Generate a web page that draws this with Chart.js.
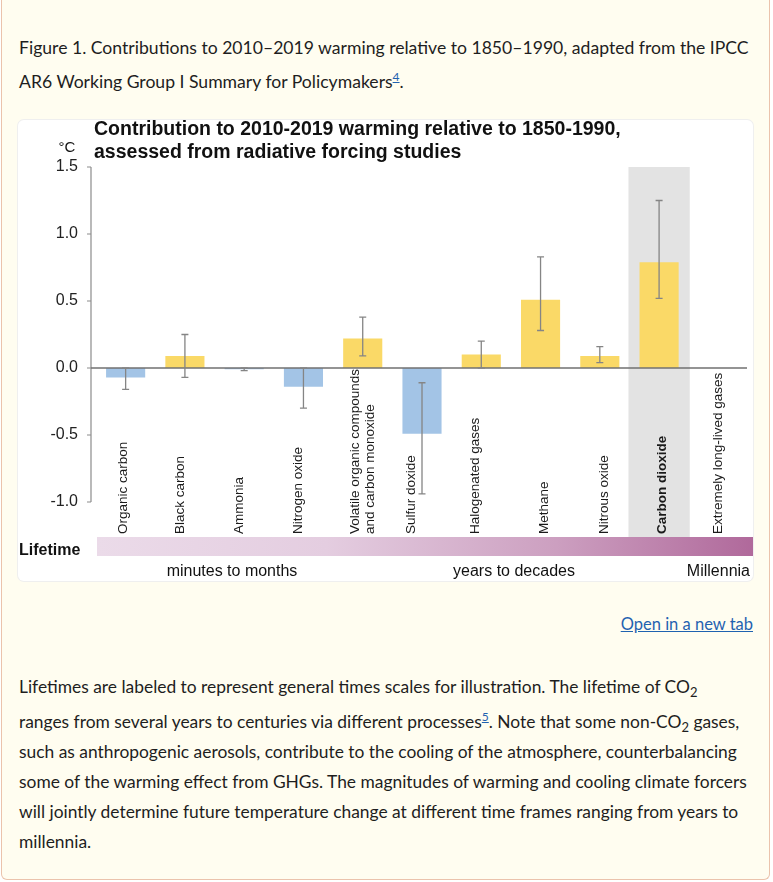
<!DOCTYPE html>
<html>
<head>
<meta charset="utf-8">
<script src="https://cdn.jsdelivr.net/npm/chart.js@4/dist/chart.umd.min.js"></script>
<style>
  html, body { margin: 0; padding: 0; background: #ffffff; }
  body { width: 773px; height: 882px; position: relative; overflow: hidden; font-family: Lato, "Noto Sans", sans-serif; color: #1e1e1e; }
  .card {
    position: absolute; left: 1px; top: -10px; width: 767px; height: 889px;
    background: #fffdf0; border: 1.5px solid #ebc3ac; border-top: none; border-radius: 0 0 6px 6px;
  }
  .caption { position: absolute; left: 19px; top: 33px; font-size: 17.6px; line-height: 29px; white-space: nowrap; }
  .panel {
    position: absolute; left: 18px; top: 120px; width: 735px; height: 461px;
    background: #fff; border-radius: 6px; box-shadow: 0 0 0 1px #efefef;
  }
  .link { position: absolute; right: 20px; top: 614px; font-size: 16.5px; color: #1f62b0; text-decoration: underline; }
  .para { position: absolute; left: 19px; top: 672px; font-size: 17.4px; line-height: 30px; white-space: nowrap; }
  sup a, sup { color: #1f62b0; font-size: 12px; }
  sup a { text-decoration: underline; }
  sub { font-size: 13px; line-height: 0; }
  a { color: #1f62b0; }
</style>
</head>
<body>
<div class="card"></div>
<div class="caption">Figure 1. Contributions to 2010–2019 warming relative to 1850–1990, adapted from the IPCC<br>AR6 Working Group I Summary for Policymakers<sup><a>4</a></sup>.</div>
<div class="panel"><canvas id="chart" width="735" height="461"></canvas></div>
<a class="link">Open in a new tab</a>
<div class="para">Lifetimes are labeled to represent general times scales for illustration. The lifetime of CO<sub>2</sub><br>ranges from several years to centuries via different processes<sup><a>5</a></sup>. Note that some non-CO<sub>2</sub> gases,<br>such as anthropogenic aerosols, contribute to the cooling of the atmosphere, counterbalancing<br>some of the warming effect from GHGs. The magnitudes of warming and cooling climate forcers<br>will jointly determine future temperature change at different time frames ranging from years to<br>millennia.</div>

<script>
// ---- data ----
const categories = ['Organic carbon', 'Black carbon', 'Ammonia', 'Nitrogen oxide',
  ['Volatile organic compounds', 'and carbon monoxide'], 'Sulfur doxide', 'Halogenated gases',
  'Methane', 'Nitrous oxide', 'Carbon dioxide', 'Extremely long-lived gases'];
const warming = [-0.07, 0.09, -0.01, -0.14, 0.22, -0.49, 0.10, 0.51, 0.09, 0.79, null];
const errLow  = [-0.16, -0.07, -0.02, -0.30, 0.09, -0.94, 0.00, 0.28, 0.04, 0.52, null];
const errHigh = [0.00, 0.25, 0.00, 0.00, 0.38, -0.11, 0.20, 0.83, 0.16, 1.25, null];
const yTicks = [1.5, 1.0, 0.5, 0.0, -0.5, -1.0];
const lifetimeLabels = ['minutes to months', 'years to decades', 'Millennia'];
const highlight = 'Carbon dioxide';

const FONT = '"Liberation Sans", Arial, Helvetica, sans-serif';
Chart.defaults.font.family = FONT;

// small sideways nudges of the rotated labels (px), as in the original figure
const labelNudge = [-2, -5, -5, -5, 0, -11, -6, 4, 4, 3, 0];

// grey band, axis line, zero line, error bars, labels and lifetime strip
const decor = {
  id: 'decor',
  beforeDatasetsDraw(chart) {
    const { ctx } = chart;
    const x = chart.scales.x, y = chart.scales.y;
    const i = categories.indexOf(highlight);
    const cx = x.getPixelForValue(i);
    const w = (x.right - x.left) / categories.length + 2;
    ctx.save();
    ctx.fillStyle = '#e3e3e3';
    ctx.fillRect(cx - w / 2, y.getPixelForValue(1.5), w, 417 - y.getPixelForValue(1.5));
    ctx.restore();
  },
  afterDatasetsDraw(chart) {
    const { ctx, chartArea } = chart;
    const x = chart.scales.x, y = chart.scales.y;
    ctx.save();

    // y axis line + tick marks
    const ax = chartArea.left - 5;
    ctx.strokeStyle = '#8c8c8c';
    ctx.lineWidth = 1.2;
    ctx.beginPath();
    ctx.moveTo(ax, y.getPixelForValue(yTicks[0]));
    ctx.lineTo(ax, y.getPixelForValue(yTicks[yTicks.length - 1]));
    yTicks.forEach(v => {
      const py = y.getPixelForValue(v);
      ctx.moveTo(ax - 4, py);
      ctx.lineTo(ax, py);
    });
    ctx.stroke();

    // zero line
    ctx.strokeStyle = '#707070';
    ctx.lineWidth = 1.5;
    ctx.beginPath();
    ctx.moveTo(ax, y.getPixelForValue(0));
    ctx.lineTo(chartArea.right - 1, y.getPixelForValue(0));
    ctx.stroke();

    // error bars
    ctx.strokeStyle = '#858585';
    ctx.lineWidth = 1.3;
    errLow.forEach((lo, i) => {
      if (lo === null) return;
      const px = x.getPixelForValue(i);
      const y1 = y.getPixelForValue(lo), y2 = y.getPixelForValue(errHigh[i]);
      ctx.beginPath();
      ctx.moveTo(px, y1); ctx.lineTo(px, y2);
      ctx.moveTo(px - 3.5, y1); ctx.lineTo(px + 3.5, y1);
      ctx.moveTo(px - 3.5, y2); ctx.lineTo(px + 3.5, y2);
      ctx.stroke();
    });

    // rotated category labels, anchored at the bottom
    ctx.fillStyle = '#1a1a1a';
    ctx.textBaseline = 'middle';
    ctx.textAlign = 'left';
    categories.forEach((lab, i) => {
      const px = x.getPixelForValue(i) + labelNudge[i];
      const lines = Array.isArray(lab) ? lab : [lab];
      ctx.font = (lab === highlight ? 'bold ' : '') + '13.5px ' + FONT;
      lines.forEach((ln, k) => {
        const off = (k - (lines.length - 1) / 2) * 15;
        ctx.save();
        ctx.translate(px + off, 414);
        ctx.rotate(-Math.PI / 2);
        ctx.fillText(ln, 0, 0);
        ctx.restore();
      });
    });

    // title and unit
    ctx.fillStyle = '#111';
    ctx.font = 'bold 19.5px ' + FONT;
    ctx.textAlign = 'left';
    ctx.textBaseline = 'alphabetic';
    ctx.fillText('Contribution to 2010-2019 warming relative to 1850-1990,', 76, 15);
    ctx.fillText('assessed from radiative forcing studies', 76, 38);
    ctx.font = '15px ' + FONT;
    ctx.textAlign = 'center';
    ctx.fillText('°C', 49, 32);

    // lifetime strip
    const g = ctx.createLinearGradient(79, 0, 735, 0);
    g.addColorStop(0, '#ebdbe9');
    g.addColorStop(0.35, '#e4cde0');
    g.addColorStop(0.7, '#cc9fc0');
    g.addColorStop(1, '#b0699b');
    ctx.fillStyle = g;
    ctx.fillRect(79, 417, 656, 19);
    ctx.fillStyle = '#111';
    ctx.font = 'bold 16px ' + FONT;
    ctx.textAlign = 'left';
    ctx.textBaseline = 'middle';
    ctx.fillText('Lifetime', 1, 431);
    ctx.font = '16px ' + FONT;
    ctx.textAlign = 'center';
    ctx.fillText(lifetimeLabels[0], 214, 452);
    ctx.fillText(lifetimeLabels[1], 496, 452);
    ctx.textAlign = 'right';
    ctx.fillText(lifetimeLabels[2], 732, 452);
    ctx.restore();
  }
};

new Chart(document.getElementById('chart'), {
  type: 'bar',
  data: {
    labels: categories,
    datasets: [{
      data: warming,
      backgroundColor: warming.map(v => (v !== null && v < 0) ? '#a3c4e6' : '#fad967'),
      borderWidth: 0,
      barPercentage: 0.66,
      categoryPercentage: 1.0
    }]
  },
  options: {
    responsive: false,
    animation: false,
    events: [],
    layout: { padding: { top: 47, right: 5, bottom: 79, left: 0 } },
    plugins: { legend: { display: false }, tooltip: { enabled: false }, title: { display: false } },
    scales: {
      x: {
        display: true,
        grid: { display: false, drawTicks: false },
        border: { display: false },
        ticks: { display: false }
      },
      y: {
        min: -1.0,
        max: 1.5,
        afterFit(scale) { scale.width = 78; },
        grid: { display: false, drawTicks: false },
        border: { display: false },
        ticks: {
          stepSize: 0.5,
          padding: 18,
          color: '#222',
          font: { size: 16 },
          callback: v => Number(v).toFixed(1)
        }
      }
    }
  },
  plugins: [decor]
});
</script>
</body>
</html>
